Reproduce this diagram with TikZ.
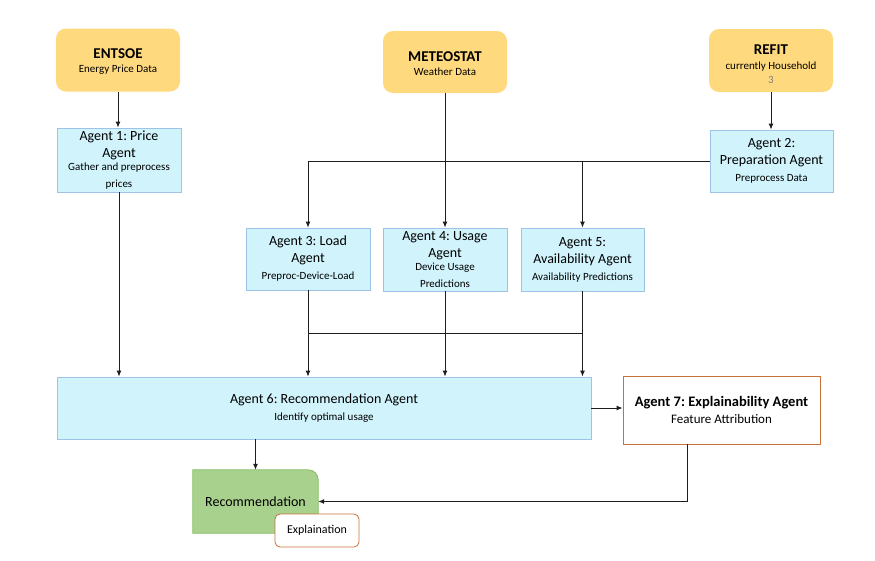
\documentclass[tikz,border=0pt]{standalone}
\usepackage{fontspec}
\setmainfont{Carlito}
\frenchspacing
\usetikzlibrary{arrows.meta,backgrounds}
\definecolor{ylw}{HTML}{FFD97E}
\definecolor{bluefill}{HTML}{D0F3FC}
\definecolor{blueline}{HTML}{9DC3E6}
\definecolor{grnfill}{HTML}{A9D18E}
\definecolor{grnline}{HTML}{84BD64}
\definecolor{orng}{HTML}{C8723A}
\definecolor{lncol}{HTML}{1E1E1E}
\newcommand{\smlfont}{\fontsize{11}{13.3}\selectfont}
\newcommand{\ttlfont}{\fontsize{15}{17}\selectfont\bfseries}
\tikzset{
  src/.style={fill=ylw, rounded corners=10pt, minimum width=124pt, minimum height=63pt,
    inner sep=2pt, align=flush center, text width=118pt, font=\smlfont},
  agent/.style={fill=bluefill, draw=blueline, line width=0.8pt, minimum width=124pt,
    minimum height=63pt, inner sep=2pt, align=flush center, text width=118pt,
    font=\fontsize{14}{17}\selectfont},
  arr/.style={draw=lncol, line width=1pt, -{Latex[length=6pt,width=5pt]}},
  plain/.style={draw=lncol, line width=1pt},
}
\begin{document}
\begin{tikzpicture}[x=1pt,y=-1pt]
\path[use as bounding box] (0,0) rectangle (875,560);
% sources
\node[src] (entsoe) at (118,60) {{\ttlfont\rule{0pt}{13.5pt}ENTSOE\par}\vspace{1pt}\smlfont Energy Price Data};
\node[src, minimum height=62pt] (meteo) at (445,62) {{\ttlfont\rule{0pt}{13.5pt}METEOSTAT\par}\vspace{1pt}\smlfont Weather Data};
\node[src] (refit) at (771,60.5) {{\ttlfont\rule{0pt}{17pt}REFIT\par}\vspace{2pt}\smlfont currently Household\\\textcolor{gray}{3}};
% agents
\node[agent, minimum height=64pt] (a1) at (119,160) {Agent 1: Price\\Agent\par\smlfont Gather and preprocess\\prices};
\node[agent, minimum width=123pt, minimum height=62pt] (a2) at (771.5,161) {Agent 2:\\Preparation Agent\par\smlfont Preprocess Data};
\node[agent, minimum height=62pt] (a3) at (308,259) {Agent 3: Load\\Agent\par\smlfont Preproc-Device-Load};
\node[agent] (a4) at (445,259.5) {Agent 4: Usage\\Agent\par\smlfont Device Usage\\Predictions};
\node[agent, minimum width=123pt] (a5) at (582.5,259.5) {Agent 5:\\Availability Agent\par\smlfont Availability Predictions};
\node[agent, minimum width=534pt, minimum height=62pt, text width=500pt] (a6) at (324,408) {Agent 6: Recommendation Agent\par\smlfont Identify optimal usage};
\node[draw=orng, fill=white, line width=0.8pt, minimum width=197pt, minimum height=68pt,
  inner sep=2pt, align=flush center, text width=190pt, font=\fontsize{14.5}{17}\selectfont]
  (a7) at (721.5,410) {\textbf{Agent 7: Explainability Agent}\par\fontsize{13}{15}\selectfont Feature Attribution};
% recommendation
\node[minimum width=125pt, minimum height=63pt, inner sep=2pt, font=\fontsize{14}{17}\selectfont]
  (rec) at (255.5,501.5) {Recommendation};
\begin{scope}[on background layer]
\draw[fill=grnfill, draw=grnline, line width=0.8pt]
  (rec.south west) -- (rec.north west) -- ([xshift=-10pt]rec.north east)
  arc[start angle=90, end angle=0, radius=10pt] -- (rec.south east) -- cycle;
\end{scope}
\node[draw=orng, fill=white, line width=0.8pt, rounded corners=5pt, minimum width=84pt,
  minimum height=33pt, inner sep=2pt, font=\fontsize{12}{14}\selectfont]
  (expl) at (317,530.5) {Explaination};
% connectors
\coordinate (bus) at (0,333);
\draw[arr] (entsoe.south) -- (entsoe.south |- a1.north);
\draw[arr] (refit.south) -- (refit.south |- a2.north);
\draw[arr] (meteo.south) -- (meteo.south |- a4.north);
\draw[arr] (a2.west) -| (a3.north);
\draw[arr] (a5.north |- a2.west) -- (a5.north);
\draw[arr] (a1.south) -- (a1.south |- a6.north);
\draw[arr] (a3.south) -- (a3.south |- a6.north);
\draw[arr] (a4.south) -- (a4.south |- a6.north);
\draw[arr] (a5.south) -- (a5.south |- a6.north);
\draw[plain] (a3.south |- bus) -- (a5.south |- bus);
\draw[arr] (a6.east) -- (a6.east -| a7.west);
\draw[arr] (rec.north |- a6.south) -- (rec.north);
\draw[arr] ([xshift=-34.5pt]a7.south) |- (rec.east);
\end{tikzpicture}
\end{document}
